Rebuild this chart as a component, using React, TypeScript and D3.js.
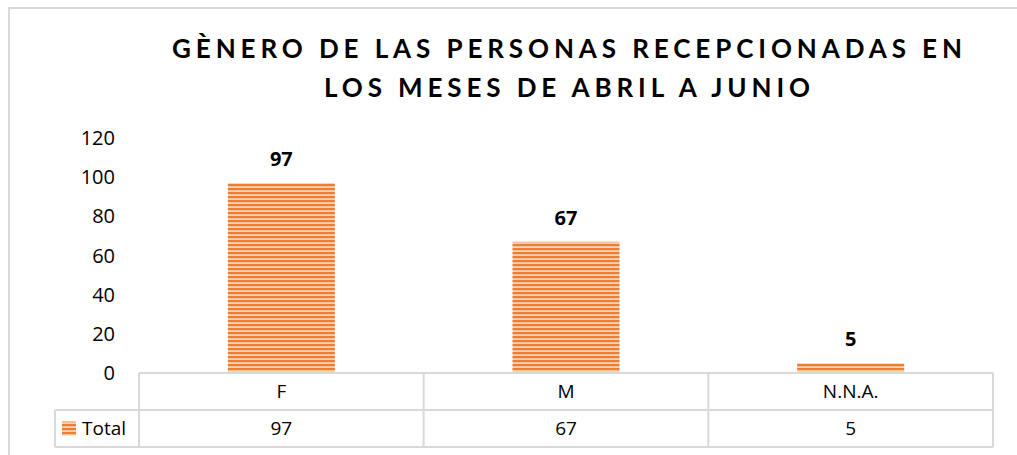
import React from "react";
import * as d3 from "d3";

const categories = ["F", "M", "N.N.A."];
const totals = [97, 67, 5];
const yTicks = [0, 20, 40, 60, 80, 100, 120];
const titleLines = ["GÈNERO DE LAS PERSONAS RECEPCIONADAS EN", "LOS MESES DE ABRIL A JUNIO"];
const seriesName = "Total";

const W = 1017;
const H = 455;
const plotLeft = 139;
const plotRight = 993;
const plotTop = 138;
const plotBottom = 373;
const rowH = 37;
const legendLeft = 55;
const FONT = "'Open Sans', Lato, sans-serif";
const TFONT = "Lato, 'Open Sans', sans-serif";
const ORANGE = "#ED7D31";
const LIGHT = "#FAD3B6";
const GRID = "#D9D9D9";
const titleWidths = [790, 486];

export default function App() {
  const x = d3.scaleBand<string>().domain(categories).range([plotLeft, plotRight]).paddingInner(0.624).paddingOuter(0.312);
  const y = d3.scaleLinear().domain([0, 120]).range([plotBottom, plotTop]);
  const band = d3.scaleBand<string>().domain(categories).range([plotLeft, plotRight]);

  return (
    <svg width={W} height={H} style={{ position: "absolute", left: 0, top: 0, display: "block", background: "#fff" }}>
      <defs>
        <pattern id="stripes" width="4" height="4" patternUnits="userSpaceOnUse">
          <rect x="0" y="0" width="4" height="4" fill={LIGHT} />
          <rect x="0" y="0" width="4" height="2.2" fill={ORANGE} />
        </pattern>
      </defs>
      <rect x={9} y={8} width={W + 20} height={H + 20} fill="#fff" stroke={GRID} strokeWidth={2} />
      {titleLines.map((t, i) => (
        <text key={i} x={567 - titleWidths[i] / 2} y={58 + i * 39} fontFamily={TFONT} fontWeight="bold" fontSize={26}
          textLength={titleWidths[i]} lengthAdjust="spacing" fill="#000">{t}</text>
      ))}
      {yTicks.map((t) => (
        <text key={t} x={115} y={y(t)} dy="0.35em" textAnchor="end" fontFamily={FONT} fontSize={20} fill="#000">{t}</text>
      ))}
      {categories.map((c, i) => (
        <g key={c}>
          <rect x={x(c)} y={y(totals[i])} width={x.bandwidth()} height={plotBottom - y(totals[i])} fill="url(#stripes)" />
          <text x={(x(c) as number) + x.bandwidth() / 2} y={y(totals[i]) - 17} textAnchor="middle" fontFamily={FONT}
            fontWeight="bold" fontSize={20} fill="#000">{totals[i]}</text>
        </g>
      ))}
      <g stroke={GRID} strokeWidth={2} fill="none">
        <line x1={plotLeft} x2={plotRight} y1={plotBottom} y2={plotBottom} />
        <line x1={legendLeft} x2={plotRight} y1={plotBottom + rowH} y2={plotBottom + rowH} />
        <line x1={legendLeft} x2={plotRight} y1={plotBottom + 2 * rowH} y2={plotBottom + 2 * rowH} />
        <line x1={legendLeft} x2={legendLeft} y1={plotBottom + rowH} y2={plotBottom + 2 * rowH} />
        {[...categories.map((c) => band(c) as number), plotRight].map((xx, i) => (
          <line key={i} x1={xx} x2={xx} y1={plotBottom} y2={plotBottom + 2 * rowH} />
        ))}
      </g>
      {categories.map((c, i) => (
        <g key={c}>
          <text x={(band(c) as number) + band.bandwidth() / 2} y={plotBottom + rowH / 2} dy="0.35em" textAnchor="middle"
            fontFamily={FONT} fontSize={19} fill="#000">{c}</text>
          <text x={(band(c) as number) + band.bandwidth() / 2} y={plotBottom + rowH * 1.5} dy="0.35em" textAnchor="middle"
            fontFamily={FONT} fontSize={19} fill="#000">{totals[i]}</text>
        </g>
      ))}
      <rect x={62} y={plotBottom + rowH * 1.5 - 7} width={14} height={14} fill="url(#stripes)" />
      <text x={82} y={plotBottom + rowH * 1.5} dy="0.35em" fontFamily={FONT} fontSize={19} fill="#000">{seriesName}</text>
    </svg>
  );
}
